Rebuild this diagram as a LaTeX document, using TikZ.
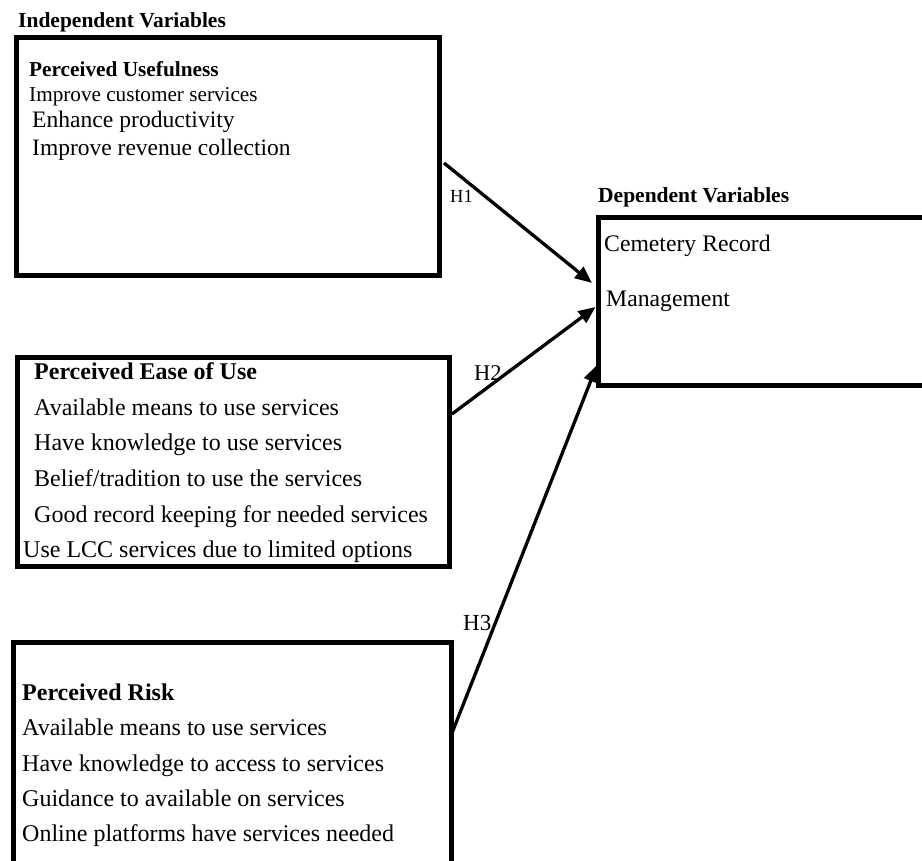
\documentclass[tikz,border=0pt]{standalone}
\usepackage{fontspec}
\setmainfont{Liberation Serif}
\usetikzlibrary{arrows.meta}

\tikzset{
  varbox/.style={draw, line width=5pt, inner sep=0pt},
  itemtext/.style={anchor=base west, inner sep=0pt},
  hyp/.style={line width=3.3pt, -{Triangle[length=17pt,width=14pt]}},
}

\begin{document}
\begin{tikzpicture}[x=1pt,y=-1pt]
    \useasboundingbox (0,0) rectangle (922,861);

      \begin{scope}[every node/.style={varbox}]
        \node[minimum width=423.5pt, minimum height=238pt] (pu)  at (227.75,156.5) {};
        \node[minimum width=431.5pt, minimum height=208pt] (peu) at (233.25,462)   {};
        \node[minimum width=438pt,   minimum height=258pt] (pr)  at (232,771)      {};
        \node[minimum width=342pt,   minimum height=167pt] (crm) at (769,301.5)    {};
      \end{scope}

      \begin{scope}[every node/.style={itemtext}]
        \node[font=\fontsize{21.5}{24}\selectfont\bfseries] (indep) at (18,28)  {Independent Variables};
        \node[font=\fontsize{21.5}{24}\selectfont\bfseries] (dep)   at (598,203) {Dependent Variables};

        \node[font=\fontsize{21.3}{24}\selectfont\bfseries] (pu0) at (29,77)  {Perceived Usefulness};
        \node[font=\fontsize{21.2}{24}\selectfont] (pu1) at (29,102) {Improve customer services};
        \node[font=\fontsize{23.6}{26}\selectfont] (pu2) at (32,128) {Enhance productivity};
        \node[font=\fontsize{23.5}{26}\selectfont] (pu3) at (32,156) {Improve revenue collection};

        \node[font=\fontsize{24}{28}\selectfont\bfseries] (peu0) at (34,379) {Perceived Ease of Use};
        \node[font=\fontsize{24}{28}\selectfont] (peu1) at (34,415) {Available means to use services};
        \node[font=\fontsize{24}{28}\selectfont] (peu2) at (34,450) {Have knowledge to use services};
        \node[font=\fontsize{24}{28}\selectfont] (peu3) at (34,486) {Belief/tradition to use the services};
        \node[font=\fontsize{24}{28}\selectfont] (peu4) at (34,522) {Good record keeping for needed services};
        \node[font=\fontsize{24}{28}\selectfont] (peu5) at (23,557) {Use LCC services due to limited options};

        \node[font=\fontsize{24}{28}\selectfont\bfseries] (pr0) at (22,700) {Perceived Risk};
        \node[font=\fontsize{24}{28}\selectfont] (pr1) at (22,735) {Available means to use services};
        \node[font=\fontsize{24}{28}\selectfont] (pr2) at (22,771) {Have knowledge to access to services};
        \node[font=\fontsize{24}{28}\selectfont] (pr3) at (22,806) {Guidance to available on services};
        \node[font=\fontsize{24}{28}\selectfont] (pr4) at (22,841) {Online platforms have services needed};

        \node[font=\fontsize{23.7}{28}\selectfont] (crm1) at (604,252) {Cemetery Record};
        \node[font=\fontsize{23.7}{28}\selectfont] (crm2) at (606,307) {Management};

        \node[font=\fontsize{18.5}{22}\selectfont] (h1) at (450,203) {H1};
        \node[font=\fontsize{22.5}{26}\selectfont] (h2) at (474,381) {H2};
        \node[font=\fontsize{23}{26}\selectfont] (h3) at (463,630) {H3};
      \end{scope}

      \draw[hyp] ([shift={(2,6.5)}]pu.east)   -- ([shift={(-3.5,-18.5)}]crm.west);
      \draw[hyp] ([shift={(0.5,-48)}]peu.east) -- ([shift={(0,5.5)}]crm.west);
      \draw[hyp] ([shift={(-1.5,-38)}]pr.east) -- ([shift={(1.5,63.5)}]crm.west);

    \end{tikzpicture}
\end{document}
